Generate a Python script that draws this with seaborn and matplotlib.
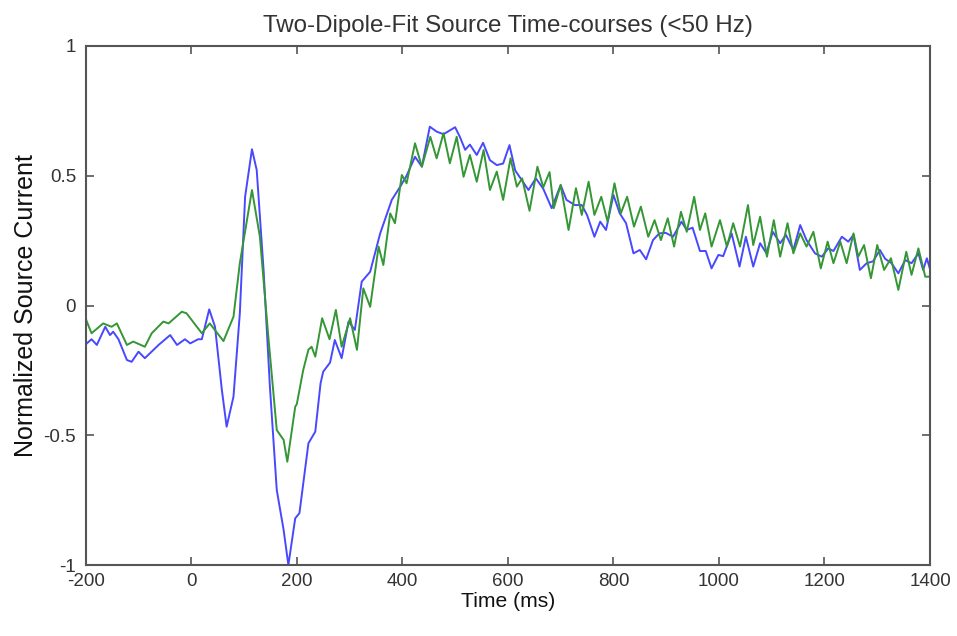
import numpy as np
import pandas as pd
import matplotlib
matplotlib.use("Agg")
import matplotlib.pyplot as plt
import seaborn as sns

# ---- data ----
blue_t = [-200, -198, -189, -179, -163, -154, -148, -138, -122, -113, -100, -88, -62, -40, -27, -12, -2, 13, 20,
          34, 45, 58, 67, 80, 92, 102, 115, 124, 137, 149, 162, 175, 184, 197, 205, 222, 235, 245, 250, 263,
          272, 285, 298, 310, 323, 339, 358, 380, 396, 408, 424, 437, 452, 465, 478, 500, 509, 519, 528, 541,
          553, 566, 579, 591, 603, 614, 626, 639, 653, 667, 683, 700, 711, 727, 740, 750, 764, 775, 786, 800,
          812, 824, 838, 850, 862, 875, 887, 899, 913, 929, 939, 950, 964, 975, 986, 999, 1008, 1024, 1039,
          1051, 1065, 1078, 1090, 1102, 1116, 1127, 1141, 1154, 1166, 1182, 1195, 1207, 1217, 1233, 1245,
          1255, 1267, 1280, 1292, 1305, 1315, 1327, 1340, 1353, 1365, 1378, 1387, 1394, 1400]
blue_v = [-0.15, -0.146, -0.13, -0.152, -0.082, -0.114, -0.101, -0.13, -0.21, -0.217, -0.178, -0.203, -0.152,
          -0.114, -0.152, -0.13, -0.146, -0.13, -0.13,
          -0.015, -0.082, -0.326, -0.467, -0.351, -0.03, 0.419, 0.602, 0.522, 0.137, -0.313, -0.711, -0.865,
          -1.0, -0.82, -0.80, -0.531, -0.486, -0.30, -0.255, -0.22,
          -0.133, -0.203, -0.062, -0.094, 0.092, 0.13, 0.278, 0.407, 0.458, 0.50, 0.573, 0.535, 0.689, 0.67,
          0.66, 0.687, 0.65, 0.60, 0.62, 0.58,
          0.627, 0.56, 0.541, 0.547, 0.618, 0.52, 0.484, 0.445, 0.49, 0.45, 0.375, 0.464, 0.407, 0.387, 0.387,
          0.349, 0.265, 0.323, 0.291, 0.426,
          0.355, 0.317, 0.201, 0.214, 0.178, 0.252, 0.278, 0.28, 0.265, 0.323, 0.291, 0.30, 0.21, 0.21, 0.143,
          0.195, 0.19, 0.278, 0.15,
          0.265, 0.15, 0.24, 0.201, 0.284, 0.24, 0.272, 0.214, 0.31, 0.252, 0.201, 0.188, 0.22, 0.21, 0.265,
          0.246, 0.272, 0.137, 0.163, 0.17, 0.214, 0.18, 0.163, 0.124, 0.175, 0.163, 0.201, 0.137, 0.182, 0.14]

green_t = [-200, -198, -189, -167, -151, -141, -122, -110, -88, -75, -53, -43, -18, -9, 20, 35, 61, 80, 92,
           115, 130, 146, 162, 175, 182, 197, 200, 212, 222, 228, 235, 248, 262, 274, 285, 301, 314, 326,
           339, 355, 364, 377, 386, 399, 408, 424, 437, 453, 465, 478, 490, 503, 516, 528, 541, 554, 566,
           579, 591, 605, 617, 627, 641, 656, 667, 679, 687, 700, 715, 729, 740, 753, 764, 777, 789, 802,
           814, 826, 839, 852, 866, 878, 890, 903, 915, 928, 939, 953, 964, 974, 986, 1002, 1015, 1027,
           1040, 1055, 1065, 1078, 1091, 1104, 1116, 1130, 1141, 1154, 1166, 1179, 1193, 1206, 1217, 1230,
           1242, 1255, 1264, 1275, 1288, 1300, 1313, 1326, 1340, 1355, 1365, 1378, 1391, 1400]
green_v = [-0.05, -0.062, -0.107, -0.069, -0.082, -0.069, -0.152, -0.139, -0.159, -0.107, -0.062, -0.069,
           -0.024, -0.030, -0.107, -0.069, -0.137, -0.043, 0.163,
           0.445, 0.265, -0.12, -0.48, -0.518, -0.602, -0.39, -0.38, -0.25, -0.17, -0.159, -0.197, -0.049,
           -0.13, -0.017, -0.159, -0.049, -0.171, 0.066,
           -0.005, 0.227, 0.156, 0.355, 0.317, 0.503, 0.471, 0.625, 0.535, 0.65, 0.567, 0.664, 0.548, 0.65,
           0.496, 0.58, 0.477, 0.599, 0.445,
           0.516, 0.407, 0.567, 0.458, 0.49, 0.365, 0.535, 0.455, 0.514, 0.375, 0.464, 0.291, 0.452, 0.349,
           0.477, 0.349, 0.419, 0.323, 0.471,
           0.355, 0.419, 0.304, 0.381, 0.265, 0.329, 0.252, 0.336, 0.227, 0.361, 0.284, 0.419, 0.291, 0.355,
           0.227, 0.329, 0.227, 0.317,
           0.227, 0.387, 0.233, 0.342, 0.188, 0.329, 0.188, 0.317, 0.201, 0.278, 0.227, 0.284, 0.143, 0.246,
           0.163, 0.246,
           0.163, 0.278, 0.188, 0.233, 0.105, 0.233, 0.137, 0.182, 0.06, 0.207, 0.118, 0.22, 0.111, 0.111]

x_ticks = [-200, 0, 200, 400, 600, 800, 1000, 1200, 1400]
x_tick_labels = ["-200", "0", "200", "400", "600", "800", "1000", "1200", "1400"]
y_ticks = [-1, -0.5, 0, 0.5, 1]
y_tick_labels = ["-1", "-0.5", "0", "0.5", "1"]

title = "Two-Dipole-Fit Source Time-courses (<50 Hz)"
x_label = "Time (ms)"
y_label = "Normalized Source Current"

# ---- plotting ----
sns.set_style("white")
fam = ["Liberation Sans", "DejaVu Sans"]
plt.rcParams["font.family"] = fam

fig = plt.figure(figsize=(9.57, 6.36), dpi=100)
ax = fig.add_axes([0.0896, 0.1116, 0.8822, 0.8161])

df_b = pd.DataFrame({"t": blue_t, "v": blue_v})
df_g = pd.DataFrame({"t": green_t, "v": green_v})
sns.lineplot(data=df_b, x="t", y="v", ax=ax, color="#4848ff", linewidth=1.4, sort=False)
sns.lineplot(data=df_g, x="t", y="v", ax=ax, color="#349634", linewidth=1.4, sort=False)

ax.set_xlim(-200, 1400)
ax.set_ylim(-1, 1)
ax.set_xticks(x_ticks)
ax.set_yticks(y_ticks)
txt = "#333333"
ax.set_xticklabels(x_tick_labels, fontsize=13.5, color=txt)
ax.set_yticklabels(y_tick_labels, fontsize=13.5, color=txt)

ax.tick_params(direction="in", length=6, width=1.2, colors="#555555", labelcolor=txt,
               top=True, right=True, bottom=True, left=True)
ax.tick_params(axis="x", pad=6)
ax.tick_params(axis="y", pad=7)
for s in ax.spines.values():
    s.set_visible(True)
    s.set_color("#555555")
    s.set_linewidth(1.5)

ax.set_title(title, fontsize=17.4, color=txt, pad=10)
ax.set_xlabel(x_label, fontsize=15.2, color="#111111", labelpad=1)
ax.set_ylabel(y_label, fontsize=18, color="#111111", labelpad=4)

fig.savefig("out.png", dpi=100)
